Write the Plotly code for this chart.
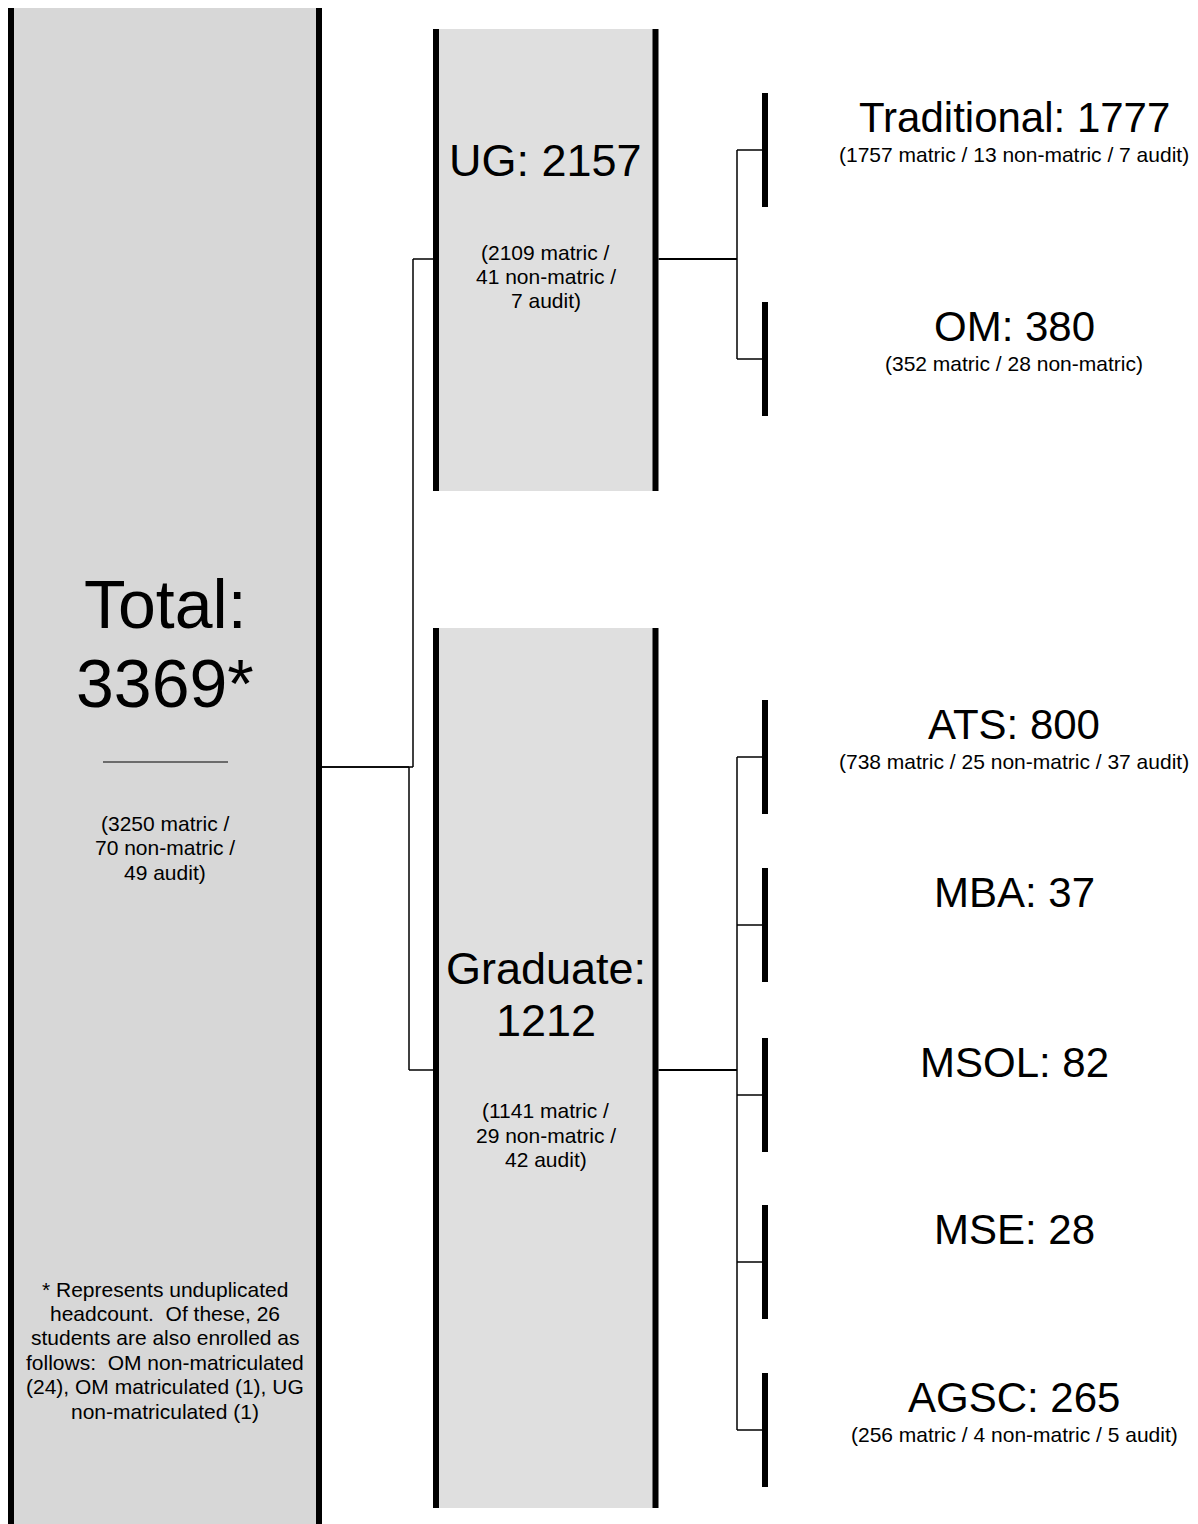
import plotly.graph_objects as go

# ---------------- data ----------------
node_names = ["Total", "UG", "Graduate", "Traditional", "OM", "ATS", "MBA", "MSOL", "MSE", "AGSC"]
node_totals = [3369, 2157, 1212, 1777, 380, 800, 37, 82, 28, 265]
node_matric = [3250, 2109, 1141, 1757, 352, 738, None, None, None, 256]
node_nonmatric = [70, 41, 29, 13, 28, 25, None, None, None, 4]
node_audit = [49, 7, 42, 7, None, 37, None, None, None, 5]
node_parent = [None, 0, 0, 1, 1, 2, 2, 2, 2, 2]
footnote_lines = [
    "* Represents unduplicated",
    "headcount.\u00a0 Of these, 26",
    "students are also enrolled as",
    "follows:\u00a0 OM non-matriculated",
    "(24), OM matriculated (1), UG",
    "non-matriculated (1)",
]

# ---------------- layout (positions / styles) ----------------
W, H = 1198, 1524
PAGE_MARGIN = 8  # default body margin of the html page
FONT = "Liberation Sans, Arial, sans-serif"
box_nodes = [0, 1, 2]
box_x = {0: (11, 319), 1: (436, 655.5), 2: (436, 655.5)}
box_y = {0: (6, 1540), 1: (29, 491), 2: (628, 1508)}
box_fill = {0: "#d7d7d7", 1: "#dfdfdf", 2: "#dfdfdf"}
box_title_y = {0: [604, 683], 1: [160], 2: [968, 1020]}
box_title_size = {0: 68, 1: 45, 2: 45}
box_sub_y = {0: [823, 847, 872], 1: [252, 276, 300], 2: [1110, 1135, 1159]}
conn_y = {0: 767, 1: 259, 2: 1070}       # y where connectors attach to a box
elbow_x = {1: 413, 2: 409}                # elbow x for children of Total
branch_x = 737
leaf_bar_x = 765
leaf_half = 57
leaf_center = {3: 150, 4: 359, 5: 757, 6: 925, 7: 1095, 8: 1262, 9: 1430}
leaf_label_x = 1014
foot_y0, foot_dy = 1289, 24.4
sub_size = 21

fig = go.Figure()
shapes = []
annotations = []


def line(x0, y0, x1, y1, w, color="black"):
    shapes.append(dict(type="line", xref="x", yref="y", x0=x0, y0=y0, x1=x1, y1=y1,
                       line=dict(color=color, width=w), layer="above"))


def text(x, y, s, size):
    annotations.append(dict(x=x, y=y, xref="x", yref="y", text=s, showarrow=False,
                            xanchor="center", yanchor="middle",
                            font=dict(family=FONT, size=size, color="black")))


# boxes
for i in box_nodes:
    x0, x1 = box_x[i]
    y0, y1 = box_y[i]
    shapes.append(dict(type="rect", xref="x", yref="y", x0=x0, x1=x1, y0=y0, y1=y1,
                       fillcolor=box_fill[i], line=dict(width=0), layer="below"))
    line(x0, y0, x0, y1, 6)
    line(x1, y0, x1, y1, 6)
    cx = (x0 + x1) / 2
    if i == 0:
        titles = [f"{node_names[i]}:", f"{node_totals[i]}*"]
    elif len(box_title_y[i]) == 1:
        titles = [f"{node_names[i]}: {node_totals[i]}"]
    else:
        titles = [f"{node_names[i]}:", f"{node_totals[i]}"]
    for t, ty in zip(titles, box_title_y[i]):
        text(cx, ty, t, box_title_size[i])
    subs = [f"({node_matric[i]} matric /", f"{node_nonmatric[i]} non-matric /", f"{node_audit[i]} audit)"]
    for t, ty in zip(subs, box_sub_y[i]):
        text(cx, ty, t, sub_size)

# underline in Total box
line(103, 762, 228, 762, 1.2)

# footnote
for k, t in enumerate(footnote_lines):
    text(165, foot_y0 + k * foot_dy, t, sub_size)

# connectors Total -> UG / Graduate
for c in [1, 2]:
    ex = elbow_x[c]
    line(box_x[0][1] + 3, conn_y[0], ex, conn_y[0], 1.5)
    line(ex, conn_y[0], ex, conn_y[c], 1.5)
    line(ex, conn_y[c], box_x[c][0] - 3, conn_y[c], 1.5)

# connectors from UG / Graduate to leaves
for p in [1, 2]:
    kids = [k for k in range(len(node_names)) if node_parent[k] == p]
    line(box_x[p][1] + 3, conn_y[p], branch_x, conn_y[p], 2)
    ys = [leaf_center[k] for k in kids]
    line(branch_x, min(ys), branch_x, max(ys), 1.5)
    for k in kids:
        line(branch_x, leaf_center[k], leaf_bar_x - 3, leaf_center[k], 1.5)

# leaves
for k, cy in leaf_center.items():
    line(leaf_bar_x, cy - leaf_half, leaf_bar_x, cy + leaf_half, 6)
    text(leaf_label_x, cy - 33, f"{node_names[k]}: {node_totals[k]}", 42)
    parts = []
    if node_matric[k] is not None:
        parts.append(f"{node_matric[k]} matric")
    if node_nonmatric[k] is not None:
        parts.append(f"{node_nonmatric[k]} non-matric")
    if node_audit[k] is not None:
        parts.append(f"{node_audit[k]} audit")
    if parts:
        text(leaf_label_x, cy + 4, "(" + " / ".join(parts) + ")", sub_size)

# the page puts the figure 8px from the top-left corner: map data coords to page pixels
fig.update_layout(
    width=W - PAGE_MARGIN, height=H - PAGE_MARGIN, margin=dict(l=0, r=0, t=0, b=0),
    paper_bgcolor="white", plot_bgcolor="white",
    xaxis=dict(range=[PAGE_MARGIN, W], visible=False, fixedrange=True),
    yaxis=dict(range=[H, PAGE_MARGIN], visible=False, fixedrange=True),
    shapes=shapes, annotations=annotations, showlegend=False,
)
fig.write_html("out.html")
